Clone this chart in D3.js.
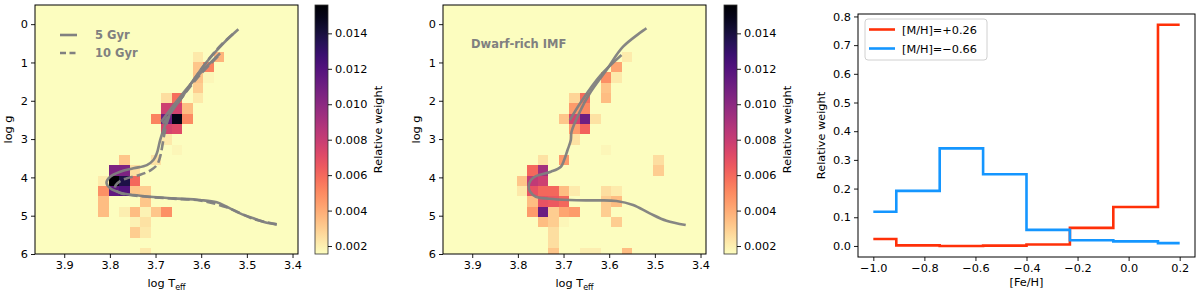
<!DOCTYPE html>
<html lang="en">
<head>
  <meta charset="UTF-8">
  <title>Stellar population weights</title>
  <script src="https://cdn.jsdelivr.net/npm/d3@7"></script>
  <style>
    body { margin: 0; background: #fff; }
    svg { font-family: "DejaVu Sans", sans-serif; }
  </style>
</head>
<body>
<script>
// heatmap bins: 25 columns in log Teff, rows of ~0.27 dex in log g
var teffEdge0 = 3.964, teffStep = -0.02304;
var loggEdge0 = -0.629, loggStep = 0.2697;
var weightDomain = [0.00155, 0.0156];

var teffTicks = [3.9, 3.8, 3.7, 3.6, 3.5, 3.4];
var loggTicks = [0, 1, 2, 3, 4, 5, 6];
var weightTicks = [0.002, 0.004, 0.006, 0.008, 0.010, 0.012, 0.014];

// [column, row, weight]
var cellsFiducial = [
  [15, 5, 0.0022], [17, 5, 0.0038], [15, 6, 0.0032], [16, 6, 0.0052],
  [15, 7, 0.0033], [16, 7, 0.0018], [15, 8, 0.003], [15, 9, 0.0022],
  [12, 9, 0.0025], [13, 9, 0.0058], [12, 10, 0.0078], [13, 10, 0.0076],
  [14, 10, 0.0035], [11, 11, 0.0052], [12, 11, 0.011], [13, 11, 0.015],
  [14, 11, 0.005], [12, 12, 0.0075], [13, 12, 0.0072], [12, 13, 0.0022],
  [13, 14, 0.0018],
  [8, 15, 0.0032], [11, 15, 0.0024],
  [7, 16, 0.0105], [8, 16, 0.0105], [9, 16, 0.0025],
  [6, 17, 0.0021], [7, 17, 0.0156], [8, 17, 0.0138], [9, 17, 0.006],
  [6, 18, 0.0048], [7, 18, 0.0115], [8, 18, 0.012], [9, 18, 0.0033], [10, 18, 0.003],
  [6, 19, 0.0035], [10, 19, 0.0032],
  [6, 20, 0.0035], [8, 20, 0.002], [9, 20, 0.0035], [10, 20, 0.0019],
  [11, 20, 0.0032], [12, 20, 0.0048],
  [9, 21, 0.0019], [10, 21, 0.0024], [9, 22, 0.003], [10, 22, 0.0022],
  [10, 24, 0.0022]
];

var cellsDwarf = [
  [17, 5, 0.0021], [16, 6, 0.0042], [15, 7, 0.0048], [16, 7, 0.0022],
  [15, 8, 0.0033], [15, 9, 0.0035], [12, 9, 0.0028], [13, 9, 0.0058],
  [12, 10, 0.0045], [13, 10, 0.005], [11, 11, 0.0032], [12, 11, 0.0075],
  [13, 11, 0.011], [14, 11, 0.0024], [12, 12, 0.0045], [13, 12, 0.0062],
  [12, 13, 0.0024], [15, 14, 0.0018],
  [9, 15, 0.0024], [11, 15, 0.0045], [20, 15, 0.0025], [20, 16, 0.003],
  [8, 16, 0.006], [9, 16, 0.0092],
  [7, 17, 0.0032], [8, 17, 0.0082], [9, 17, 0.0078],
  [7, 18, 0.0022], [8, 18, 0.0068], [9, 18, 0.006], [10, 18, 0.006],
  [11, 18, 0.0035], [12, 18, 0.0021], [15, 18, 0.0025], [16, 18, 0.0021],
  [8, 19, 0.0035], [9, 19, 0.0068], [10, 19, 0.0065], [11, 19, 0.006],
  [15, 19, 0.003], [16, 19, 0.0035],
  [8, 20, 0.0045], [9, 20, 0.0112], [10, 20, 0.003], [11, 20, 0.0042],
  [12, 20, 0.0045], [15, 20, 0.003],
  [9, 21, 0.0035], [10, 21, 0.003], [11, 21, 0.0018], [16, 21, 0.003],
  [10, 22, 0.0025], [10, 23, 0.0025],
  [10, 24, 0.0032], [13, 24, 0.002], [14, 24, 0.002], [17, 24, 0.0035]
];

// isochrones [log Teff, log g]
var iso5Gyr = [
  [3.4346, 5.226], [3.4565, 5.184], [3.4858, 5.069], [3.5149, 4.939], [3.544, 4.766],
  [3.5659, 4.651], [3.6024, 4.591], [3.6608, 4.547], [3.7118, 4.505], [3.7483, 4.461],
  [3.7774, 4.401], [3.7993, 4.286], [3.8074, 4.14], [3.7993, 3.983], [3.7774, 3.852],
  [3.7483, 3.764], [3.719, 3.678], [3.7046, 3.547], [3.6971, 3.372], [3.6899, 3.025],
  [3.6827, 2.764], [3.668, 2.328], [3.6461, 1.98], [3.617, 1.458], [3.5877, 0.98],
  [3.5514, 0.5], [3.5186, 0.134]
];
var iso5GyrAgb = [[3.6877, 2.547], [3.6461, 1.894], [3.6024, 1.283], [3.5586, 0.761]];
var iso10Gyr = [
  [3.4346, 5.226], [3.4858, 5.082], [3.544, 4.782], [3.6024, 4.604], [3.6608, 4.557],
  [3.7118, 4.513], [3.7483, 4.469], [3.7774, 4.409], [3.7883, 4.317], [3.7872, 4.2],
  [3.7774, 4.095], [3.7627, 4.025], [3.7336, 3.931], [3.7118, 3.821], [3.6971, 3.678],
  [3.6899, 3.461], [3.6855, 3.2], [3.6811, 2.894], [3.6745, 2.555], [3.6636, 2.242],
  [3.6418, 1.902], [3.6133, 1.406], [3.5849, 0.936], [3.5543, 0.518], [3.525, 0.2]
];
var iso10GyrAgb = [[3.684, 2.6], [3.645, 1.95], [3.603, 1.33], [3.56, 0.8]];
var isoDwarf = [
  [3.4324, 5.244], [3.4746, 5.132], [3.5112, 4.939], [3.5477, 4.722], [3.584, 4.617],
  [3.6205, 4.6], [3.6512, 4.6], [3.6877, 4.59], [3.7315, 4.557], [3.7606, 4.505],
  [3.773, 4.374], [3.7765, 4.244], [3.7715, 4.069], [3.7606, 3.965], [3.7277, 3.852],
  [3.7059, 3.722], [3.6987, 3.547], [3.6912, 3.286], [3.684, 3.025], [3.6825, 2.808],
  [3.6643, 2.286], [3.6424, 1.805], [3.6059, 1.197], [3.5696, 0.589], [3.5184, 0.108]
];
var isoDwarfAgb = [[3.6862, 2.503], [3.66, 2.0], [3.62, 1.35], [3.5731, 0.806]];

// metallicity distributions
var fehEdges = [-1.0, -0.91, -0.74, -0.57, -0.40, -0.23, -0.06, 0.115, 0.2];
var weightMetalRich = [0.024, 0.002, 0.0, 0.001, 0.005, 0.063, 0.136, 0.771];
var weightMetalPoor = [0.119, 0.192, 0.340, 0.250, 0.056, 0.020, 0.016, 0.010];
var fehTicks = [-1.0, -0.8, -0.6, -0.4, -0.2, 0.0, 0.2];
var relTicks = [0, 0.1, 0.2, 0.3, 0.4, 0.5, 0.6, 0.7, 0.8];

var grey = "#808080";
var fontSize = 11.3;
var svg = d3.select("body").append("svg").attr("width", 1200).attr("height", 293);

var color = d3.scaleSequential(function(t) { return d3.interpolateMagma(1 - t); })
  .domain(weightDomain).clamp(true);

// gradient for colorbars
var grad = svg.append("defs").append("linearGradient")
  .attr("id", "cbar").attr("x1", 0).attr("y1", 1).attr("x2", 0).attr("y2", 0);
d3.range(0, 1.0001, 0.05).forEach(function(t) {
  grad.append("stop").attr("offset", t).attr("stop-color", d3.interpolateMagma(1 - t));
});

function styleAxis(g) {
  g.select(".domain").remove();
  g.selectAll(".tick line").attr("stroke", "#000").attr("stroke-width", 0.9);
  g.selectAll(".tick text").attr("font-size", fontSize).attr("fill", "#000")
    .attr("font-family", "DejaVu Sans, sans-serif");
}

function makeHrPanel(left, cells, lines, cbarLeft, id) {
  var top = 5, w = 263, h = 249;
  var x = d3.scaleLinear().domain([teffEdge0, teffEdge0 + 25 * teffStep]).range([0, w]);
  var y = d3.scaleLinear().domain([-0.5, 6]).range([0, h]);

  var g = svg.append("g").attr("transform", "translate(" + left + "," + top + ")");
  g.append("clipPath").attr("id", "clip" + id).append("rect").attr("width", w).attr("height", h);

  var plot = g.append("g").attr("clip-path", "url(#clip" + id + ")");
  plot.append("rect").attr("width", w).attr("height", h).attr("fill", color(weightDomain[0]));

  plot.selectAll("rect.cell")
    .data(cells)
    .enter()
    .append("rect")
    .attr("class", "cell")
    .attr("x", function(d) { return x(teffEdge0 + teffStep * d[0]); })
    .attr("y", function(d) { return y(loggEdge0 + loggStep * d[1]); })
    .attr("width", x(teffEdge0 + teffStep) - x(teffEdge0))
    .attr("height", y(loggEdge0 + loggStep) - y(loggEdge0))
    .attr("shape-rendering", "crispEdges")
    .attr("fill", function(d) { return color(d[2]); });

  var line = d3.line()
    .x(function(d) { return x(d[0]); })
    .y(function(d) { return y(d[1]); })
    .curve(d3.curveCatmullRom);

  lines.forEach(function(l) {
    plot.append("path")
      .attr("d", line(l.pts))
      .attr("fill", "none")
      .attr("stroke", grey)
      .attr("stroke-width", 2.6)
      .attr("stroke-opacity", 0.95)
      .attr("stroke-dasharray", l.dash ? "9,4" : null);
  });

  g.append("rect").attr("width", w).attr("height", h)
    .attr("fill", "none").attr("stroke", "#000").attr("stroke-width", 1);

  g.append("g").attr("transform", "translate(0," + h + ")")
    .call(d3.axisBottom(x).tickValues(teffTicks).tickFormat(d3.format(".1f")).tickSize(4).tickPadding(3))
    .call(styleAxis);
  g.append("g")
    .call(d3.axisLeft(y).tickValues(loggTicks).tickFormat(d3.format("d")).tickSize(4).tickPadding(3))
    .call(styleAxis);

  var xl = g.append("text")
    .attr("x", w / 2).attr("y", h + 33)
    .attr("text-anchor", "middle").attr("font-size", fontSize);
  xl.append("tspan").text("log T");
  xl.append("tspan").attr("font-size", 8).attr("dy", 3).text("eff");

  g.append("text")
    .attr("transform", "translate(-23," + (h / 2) + ")rotate(-90)")
    .attr("text-anchor", "middle").attr("font-size", fontSize)
    .text("log g");

  // colorbar
  var cw = 13;
  var cs = d3.scaleLinear().domain(weightDomain).range([h, 0]);
  var cb = svg.append("g").attr("transform", "translate(" + cbarLeft + "," + top + ")");
  cb.append("rect").attr("width", cw).attr("height", h).attr("fill", "url(#cbar)")
    .attr("stroke", "#333").attr("stroke-width", 0.8);
  cb.append("g").attr("transform", "translate(" + cw + ",0)")
    .call(d3.axisRight(cs).tickValues(weightTicks).tickFormat(d3.format(".3f")).tickSize(4).tickPadding(3))
    .call(styleAxis);
  cb.append("text")
    .attr("transform", "translate(" + (cw + 54) + "," + (h / 2) + ")rotate(-90)")
    .attr("text-anchor", "middle").attr("font-size", fontSize)
    .text("Relative weight");

  return { g: g, x: x, y: y };
}

var p1 = makeHrPanel(35, cellsFiducial, [
  { pts: iso5Gyr }, { pts: iso5GyrAgb },
  { pts: iso10Gyr, dash: true }, { pts: iso10GyrAgb, dash: true }
], 315, 1);

// legend of panel 1
[{ label: "5 Gyr", dash: false, y: 30 }, { label: "10 Gyr", dash: true, y: 48 }].forEach(function(d) {
  p1.g.append("line").attr("x1", 25).attr("x2", 42).attr("y1", d.y).attr("y2", d.y)
    .attr("stroke", grey).attr("stroke-width", 2.6)
    .attr("stroke-dasharray", d.dash ? "6,3.5" : null);
  p1.g.append("text").attr("x", 60).attr("y", d.y + 4)
    .attr("font-size", 11.5).attr("font-weight", "bold").attr("fill", grey)
    .text(d.label);
});

var p2 = makeHrPanel(443, cellsDwarf, [{ pts: isoDwarf }, { pts: isoDwarfAgb }], 724, 2);
p2.g.append("text").attr("x", 28).attr("y", 43)
  .attr("font-size", 11.5).attr("font-weight", "bold").attr("fill", grey)
  .text("Dwarf-rich IMF");

// metallicity panel
(function() {
  var left = 858, top = 14, w = 337, h = 243;
  var x = d3.scaleLinear().domain([-1.06, 0.26]).range([0, w]);
  var y = d3.scaleLinear().domain([-0.0385, 0.8085]).range([h, 0]);
  var g = svg.append("g").attr("transform", "translate(" + left + "," + top + ")");

  var step = d3.line()
    .x(function(d) { return x(d[0]); })
    .y(function(d) { return y(d[1]); })
    .curve(d3.curveStepAfter);

  function pts(vals) {
    var p = vals.map(function(v, i) { return [fehEdges[i], v]; });
    p.push([fehEdges[fehEdges.length - 1], vals[vals.length - 1]]);
    return p;
  }

  var series = [
    { vals: weightMetalRich, color: "#ff3008", label: "[M/H]=+0.26" },
    { vals: weightMetalPoor, color: "#1496ff", label: "[M/H]=\u22120.66" }
  ];

  series.forEach(function(s) {
    g.append("path").attr("d", step(pts(s.vals)))
      .attr("fill", "none").attr("stroke", s.color).attr("stroke-width", 2.6);
  });

  g.append("rect").attr("width", w).attr("height", h)
    .attr("fill", "none").attr("stroke", "#000").attr("stroke-width", 1);

  g.append("g").attr("transform", "translate(0," + h + ")")
    .call(d3.axisBottom(x).tickValues(fehTicks).tickFormat(d3.format(".1f")).tickSize(4).tickPadding(3))
    .call(styleAxis);
  g.append("g")
    .call(d3.axisLeft(y).tickValues(relTicks).tickFormat(d3.format(".1f")).tickSize(4).tickPadding(3))
    .call(styleAxis);

  g.append("text").attr("x", w / 2).attr("y", h + 29)
    .attr("text-anchor", "middle").attr("font-size", fontSize).text("[Fe/H]");
  g.append("text")
    .attr("transform", "translate(-33," + (h / 2) + ")rotate(-90)")
    .attr("text-anchor", "middle").attr("font-size", fontSize)
    .text("Relative weight");

  var lg = g.append("g").attr("transform", "translate(7,5)");
  lg.append("rect").attr("width", 122).attr("height", 41).attr("rx", 3)
    .attr("fill", "#fff").attr("fill-opacity", 0.8)
    .attr("stroke", "#d0d0d0").attr("stroke-width", 1);
  series.forEach(function(s, i) {
    var yy = 10.5 + i * 19;
    lg.append("line").attr("x1", 4).attr("x2", 30).attr("y1", yy).attr("y2", yy)
      .attr("stroke", s.color).attr("stroke-width", 2.6);
    lg.append("text").attr("x", 37).attr("y", yy + 4).attr("font-size", fontSize).text(s.label);
  });
})();
</script>
</body>
</html>
